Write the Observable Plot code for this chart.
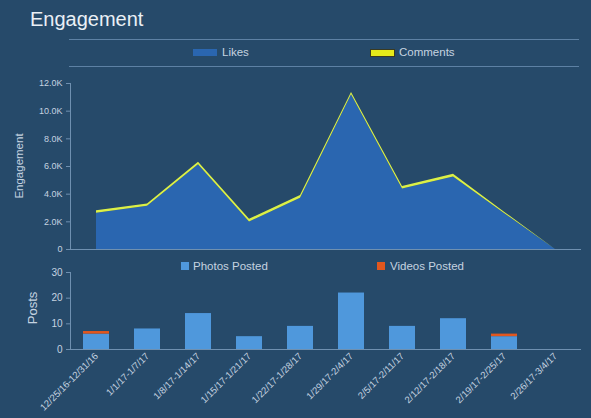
<!DOCTYPE html>
<html>
<head>
<meta charset="utf-8">
<script src="https://cdn.jsdelivr.net/npm/d3@7"></script>
<script src="https://cdn.jsdelivr.net/npm/@observablehq/plot@0.6"></script>
<style>
  html, body { margin: 0; padding: 0; background: #264a6a; }
  #wrap { position: relative; width: 591px; height: 418px; background: #264a6a; overflow: hidden;
          font-family: "Liberation Sans", Arial, sans-serif; color: #c5d3e0; }
  .abs { position: absolute; white-space: nowrap; }
  .hr { position: absolute; left: 69px; width: 510px; height: 1px; background: #5d81a4; }
  svg { position: absolute; left: 0; overflow: visible; }
</style>
</head>
<body>
<div id="wrap">
  <div class="abs" style="left:30px;top:9px;font-size:20px;line-height:20px;color:#eaf0f6;">Engagement</div>
  <div class="hr" style="top:39px;"></div>
  <div class="hr" style="top:66px;"></div>
  <div class="abs" style="left:193px;top:49px;width:24px;height:7px;background:#2a66b0;"></div>
  <div class="abs" style="left:222px;top:45px;font-size:11.5px;line-height:14px;">Likes</div>
  <div class="abs" style="left:370px;top:49px;width:23px;height:6px;background:#e6ea1a;border:1px solid #3a3a20;"></div>
  <div class="abs" style="left:399px;top:45px;font-size:11.5px;line-height:14px;">Comments</div>
  <div class="abs" style="left:181px;top:262px;width:8px;height:8px;background:#4f98dc;"></div>
  <div class="abs" style="left:193px;top:259px;font-size:11.5px;line-height:14px;">Photos Posted</div>
  <div class="abs" style="left:377px;top:262px;width:8px;height:8px;background:#e2571e;"></div>
  <div class="abs" style="left:390px;top:259px;font-size:11.5px;line-height:14px;">Videos Posted</div>
  <div class="abs" style="left:19px;top:166px;font-size:11.5px;transform:translate(-50%,-50%) rotate(-90deg);">Engagement</div>
  <div class="abs" style="left:32px;top:308px;font-size:13px;transform:translate(-50%,-50%) rotate(-90deg);">Posts</div>
</div>
<script>
const weeks = ["12/25/16-12/31/16","1/1/17-1/7/17","1/8/17-1/14/17","1/15/17-1/21/17","1/22/17-1/28/17","1/29/17-2/4/17","2/5/17-2/11/17","2/12/17-2/18/17","2/19/17-2/25/17","2/26/17-3/4/17"];
const likes = [2620, 3120, 6130, 1990, 3700, 11180, 4370, 5240, 2610, 0];
const comments = [190, 170, 180, 190, 200, 170, 180, 200, 90, 0];
const photos = [6, 8, 14, 5, 9, 22, 9, 12, 5, 0];
const videos = [1, 0, 0, 0, 0, 0, 0, 0, 1, 0];
const engTicks = [0, 2000, 4000, 6000, 8000, 10000, 12000];
const postTicks = [0, 10, 20, 30];

const axisColor = "#6f90b0";
const textColor = "#c5d3e0";

function yAxisLine(index, scales, values, dims) {
  const l = document.createElementNS("http://www.w3.org/2000/svg", "line");
  l.setAttribute("x1", dims.marginLeft + 0.5);
  l.setAttribute("x2", dims.marginLeft + 0.5);
  l.setAttribute("y1", dims.marginTop);
  l.setAttribute("y2", dims.height - dims.marginBottom);
  l.setAttribute("stroke", axisColor);
  return l;
}

const engData = [];
weeks.forEach((w, i) => {
  engData.push({week: w, series: "Likes", value: likes[i]});
  engData.push({week: w, series: "Comments", value: comments[i]});
});

const engChart = Plot.plot({
  width: 591, height: 186,
  marginLeft: 70, marginRight: 10, marginTop: 13, marginBottom: 7,
  style: {background: "transparent", color: textColor, fontSize: "9px", fontFamily: "Liberation Sans, Arial, sans-serif"},
  x: {type: "point", domain: weeks, padding: 0.5, axis: null},
  y: {domain: [0, 12000], label: null},
  color: {domain: ["Likes", "Comments"], range: ["#2a66b0", "#dcf046"]},
  marks: [
    Plot.areaY(engData, {x: "week", y: "value", fill: "series", order: ["Likes", "Comments"]}),
    Plot.ruleY([0], {stroke: axisColor}),
    Plot.axisY({ticks: engTicks, tickFormat: d => d === 0 ? "0" : (d / 1000).toFixed(1) + "K", tickSize: 4, tickPadding: 4, stroke: axisColor, label: null}),
    yAxisLine
  ]
});
engChart.style.top = "70px";
document.getElementById("wrap").appendChild(engChart);

const postData = [];
weeks.forEach((w, i) => {
  postData.push({week: w, type: "Photos Posted", value: photos[i]});
  postData.push({week: w, type: "Videos Posted", value: videos[i]});
});

const postChart = Plot.plot({
  width: 591, height: 160,
  marginLeft: 70, marginRight: 10, marginTop: 14, marginBottom: 69,
  style: {background: "transparent", color: textColor, fontSize: "9.5px", fontFamily: "Liberation Sans, Arial, sans-serif"},
  x: {type: "band", domain: weeks, paddingInner: 0.5, paddingOuter: 0.25, label: null},
  y: {domain: [0, 30], label: null},
  color: {domain: ["Photos Posted", "Videos Posted"], range: ["#4f98dc", "#e2571e"]},
  marks: [
    Plot.barY(postData, {x: "week", y: "value", fill: "type", order: ["Photos Posted", "Videos Posted"]}),
    Plot.ruleY([0], {stroke: axisColor}),
    Plot.axisY({ticks: postTicks, tickSize: 4, tickPadding: 4, stroke: axisColor, label: null, fontSize: 10}),
    Plot.axisX({tickRotate: -45, tickSize: 0, tickPadding: 5, label: null, fontSize: 9.5}),
    yAxisLine
  ]
});
postChart.style.top = "258px";
document.getElementById("wrap").appendChild(postChart);
</script>
</body>
</html>
